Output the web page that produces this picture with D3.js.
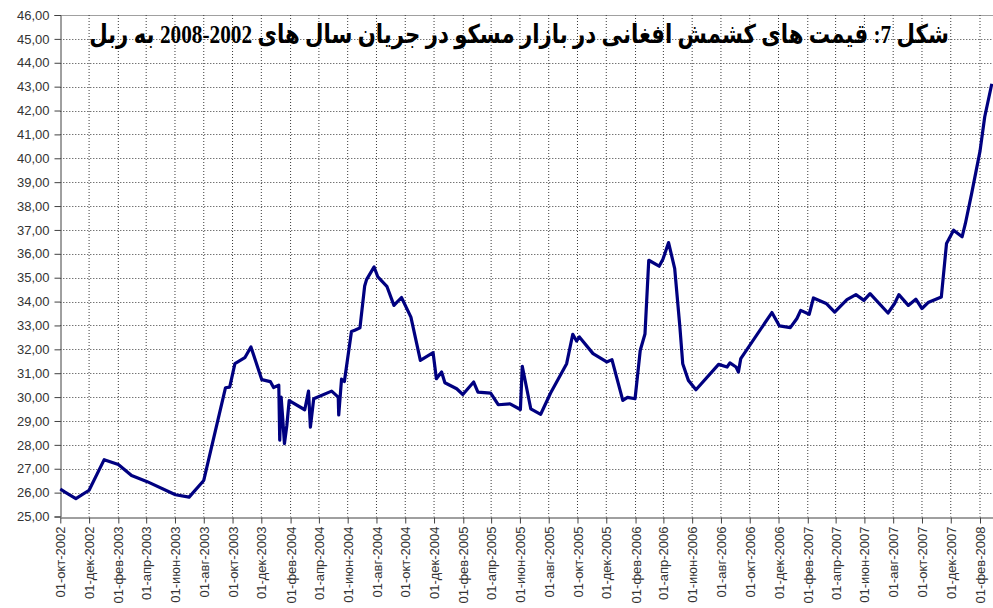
<!DOCTYPE html>
<html><head><meta charset="utf-8">
<script src="https://cdn.jsdelivr.net/npm/d3@7"></script>
<style>html,body{margin:0;padding:0;background:#fff;}svg{display:block;}</style>
</head><body>
<svg id="chart" width="993" height="608"></svg>
<script>
const titleText = "شکل 7: قیمت های کشمش افغانی در بازار مسکو در جریان سال های 2002-2008 به ربل";
const monthNames = ["янв","фев","мар","апр","май","июн","июл","авг","сен","окт","ноя","дек"];
const yTicks = d3.range(25, 47, 1);
const xTickStart = "2002-10-01";
const xTickEnd = "2008-02-01";
const xDomain = ["2002-10-01", "2008-03-01"];

const dates = [
"2002-10-01","2002-10-11","2002-11-03","2002-12-01","2003-01-02","2003-02-01","2003-03-01","2003-04-02",
"2003-06-02","2003-07-01","2003-08-01","2003-09-16","2003-09-25","2003-10-06","2003-10-27","2003-11-09",
"2003-12-02","2003-12-20","2003-12-27","2004-01-07","2004-01-09","2004-01-12","2004-01-15","2004-01-19",
"2004-01-24","2004-01-29","2004-03-02","2004-03-10","2004-03-14","2004-03-21","2004-04-28","2004-05-12",
"2004-05-13","2004-05-19","2004-05-25","2004-06-09","2004-06-16","2004-06-27","2004-07-07","2004-07-11",
"2004-07-27","2004-08-04","2004-08-23","2004-09-07","2004-09-23","2004-10-13","2004-11-02","2004-11-29",
"2004-12-06","2004-12-17","2004-12-24","2005-01-18","2005-01-31","2005-02-23","2005-03-04","2005-03-31",
"2005-04-16","2005-05-11","2005-06-02","2005-06-06","2005-06-24","2005-07-15","2005-08-05","2005-09-08",
"2005-09-21","2005-09-29","2005-10-05","2005-11-03","2005-12-02","2005-12-13","2006-01-05","2006-01-15",
"2006-01-31","2006-02-11","2006-02-21","2006-03-01","2006-03-23","2006-03-31","2006-04-12","2006-04-25",
"2006-05-06","2006-05-12","2006-05-24","2006-06-09","2006-07-27","2006-08-14","2006-08-20","2006-09-02",
"2006-09-07","2006-09-12","2006-11-17","2006-12-03","2006-12-26","2007-01-09","2007-01-17","2007-02-04",
"2007-02-13","2007-03-12","2007-03-30","2007-04-25","2007-05-14","2007-05-31","2007-06-13","2007-07-21",
"2007-08-04","2007-08-13","2007-09-02","2007-09-18","2007-10-01","2007-10-14","2007-11-11","2007-11-22",
"2007-12-07","2007-12-25","2008-01-01","2008-01-14","2008-02-01","2008-02-11","2008-02-26"
];
const prices = [
26.15,26.02,25.75,26.10,27.38,27.18,26.72,26.47,
25.91,25.81,26.51,30.39,30.42,31.40,31.65,32.10,
30.73,30.65,30.40,30.50,28.20,30.00,29.20,28.05,
28.80,29.85,29.47,30.25,28.74,29.93,30.25,30.00,
29.25,30.75,30.65,32.75,32.80,32.90,34.65,34.92,
35.45,35.03,34.64,33.84,34.17,33.35,31.54,31.86,
30.77,31.05,30.60,30.35,30.11,30.63,30.21,30.17,
29.68,29.72,29.48,31.29,29.51,29.28,30.17,31.40,
32.63,32.35,32.52,31.82,31.47,31.57,29.86,29.99,
29.93,31.96,32.64,35.73,35.48,35.77,36.47,35.38,
32.93,31.40,30.70,30.31,31.37,31.26,31.43,31.26,
31.05,31.61,33.54,32.98,32.91,33.29,33.63,33.47,
34.15,33.92,33.56,34.08,34.29,34.05,34.33,33.52,
33.92,34.29,33.84,34.10,33.71,33.96,34.19,36.43,
36.99,36.71,37.27,38.50,40.30,41.74,43.12
];

const parse = d3.utcParse("%Y-%m-%d");
const data = dates.map((d, i) => ({date: parse(d), value: prices[i]}));

const svg = d3.select("#chart");
const plotLeft = 60.3, plotTop = 15, plotBottom = 516.5;
const x = d3.scaleUtc().domain(xDomain.map(parse)).range([plotLeft, 993.7]);
const y = d3.scaleLinear().domain([25, 46]).range([plotBottom, plotTop]);

const xTicks = d3.utcMonth.range(parse(xTickStart), d3.utcDay.offset(parse(xTickEnd), 1), 2);
const fmtDate = d => "01-" + monthNames[d.getUTCMonth()] + "-" + d.getUTCFullYear();
const fmtNum = d => d3.format(".2f")(d).replace(".", ",");

// horizontal grid
svg.append("g").selectAll("line").data(yTicks.filter(v => v > 25 && v < 46)).join("line")
  .attr("x1", plotLeft).attr("x2", 993)
  .attr("y1", d => Math.round(y(d)) + 0.5).attr("y2", d => Math.round(y(d)) + 0.5)
  .attr("stroke", "#3a3a3a").attr("stroke-width", 1).attr("stroke-dasharray", "1 2");
// top border
svg.append("line").attr("x1", plotLeft).attr("x2", 993).attr("y1", Math.round(y(46)) + 0.5).attr("y2", Math.round(y(46)) + 0.5)
  .attr("stroke", "#a0a0a0").attr("stroke-width", 1);
// vertical grid
svg.append("g").selectAll("line").data(xTicks.slice(1)).join("line")
  .attr("x1", d => x(d)).attr("x2", d => x(d))
  .attr("y1", plotTop).attr("y2", plotBottom)
  .attr("stroke", "#3a3a3a").attr("stroke-width", 1).attr("stroke-dasharray", "1 2");

// y axis
const yAxis = svg.append("g").attr("transform", `translate(${Math.round(plotLeft) + 0.5},0)`)
  .call(d3.axisLeft(y).tickValues(yTicks).tickFormat(fmtNum).tickSize(6).tickPadding(5));
yAxis.select(".domain").attr("stroke", "#404040");
yAxis.selectAll(".tick line").attr("stroke", "#404040");
yAxis.selectAll("text").attr("fill", "#333").style("font-family", "Arial, 'Liberation Sans', sans-serif").style("font-size", "13px");

// x axis
const xAxis = svg.append("g").attr("transform", `translate(0,${Math.round(plotBottom) + 0.5})`)
  .call(d3.axisBottom(x).tickValues(xTicks).tickFormat(fmtDate).tickSize(6).tickSizeOuter(0));
xAxis.select(".domain").attr("stroke", "#404040");
xAxis.selectAll(".tick line").attr("stroke", "#404040");
xAxis.selectAll("text")
  .attr("fill", "#333").style("font-family", "Arial, 'Liberation Sans', sans-serif").style("font-size", "13px")
  .attr("transform", "rotate(-90)").attr("text-anchor", "end")
  .attr("x", -9).attr("y", 0).attr("dy", "0.35em");

// line
const line = d3.line().x(d => x(d.date)).y(d => y(d.value));
svg.append("path").datum(data).attr("d", line)
  .attr("fill", "none").attr("stroke", "#000080").attr("stroke-width", 3.2)
  .attr("stroke-linejoin", "round");

// title
const titleG = svg.append("g");
const title = titleG.append("text").attr("x", 0).attr("y", 0)
  .attr("direction", "rtl").attr("text-anchor", "middle")
  .style("font-family", "'Liberation Serif', 'DejaVu Sans', serif").style("font-weight", "bold").style("font-size", "26px")
  .attr("fill", "#000").text(titleText);
const tw = title.node().getComputedTextLength();
const sx = Math.min(1, 860 / tw);
titleG.attr("transform", `translate(519,43) scale(${sx},1)`);
</script>
</body></html>
